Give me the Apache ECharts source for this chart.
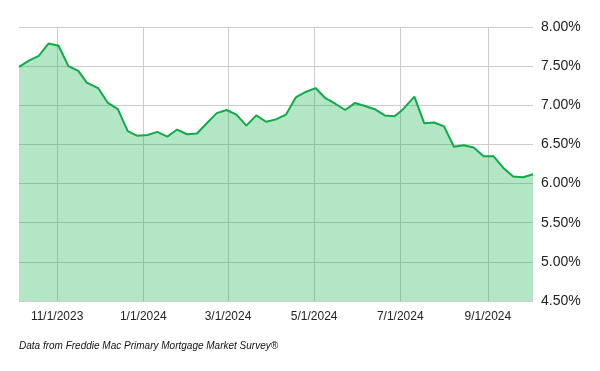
<!DOCTYPE html>
<html>
<head>
<meta charset="utf-8">
<script src="https://cdn.jsdelivr.net/npm/echarts@6/dist/echarts.min.js"></script>
<style>html,body{margin:0;padding:0;background:#fff}#c{width:600px;height:371px}</style>
</head>
<body>
<div id="c"></div>
<script>
const dates = ['2023-10-05','2023-10-12','2023-10-19','2023-10-26','2023-11-02','2023-11-09','2023-11-16','2023-11-22','2023-11-30','2023-12-07','2023-12-14','2023-12-21','2023-12-28','2024-01-04','2024-01-11','2024-01-18','2024-01-25','2024-02-01','2024-02-08','2024-02-15','2024-02-22','2024-02-29','2024-03-07','2024-03-14','2024-03-21','2024-03-28','2024-04-04','2024-04-11','2024-04-18','2024-04-25','2024-05-02','2024-05-09','2024-05-16','2024-05-23','2024-05-30','2024-06-06','2024-06-13','2024-06-20','2024-06-27','2024-07-03','2024-07-11','2024-07-18','2024-07-25','2024-08-01','2024-08-08','2024-08-15','2024-08-22','2024-08-29','2024-09-05','2024-09-12','2024-09-19','2024-09-26','2024-10-03'];
const rates = [7.49,7.57,7.63,7.79,7.76,7.50,7.44,7.29,7.22,7.03,6.95,6.67,6.61,6.62,6.66,6.60,6.69,6.63,6.64,6.77,6.90,6.94,6.88,6.74,6.87,6.79,6.82,6.88,7.10,7.17,7.22,7.09,7.02,6.94,7.03,6.99,6.95,6.87,6.86,6.95,7.11,6.77,6.78,6.73,6.47,6.49,6.46,6.35,6.35,6.20,6.09,6.08,6.12];
const xTickDates = ['2023-11-01','2024-01-01','2024-03-01','2024-05-01','2024-07-01','2024-09-01'];
const yMin = 4.5, yMax = 8.0, yStep = 0.5;
const footnote = 'Data from Freddie Mac Primary Mortgage Market Survey®';

// days since 1970-01-01 (UTC) for a date string
function dn(s){const p=s.split('-').map(Number);return Date.UTC(p[0],p[1]-1,p[2])/86400000;}
function fmt(v){const d=new Date(Math.round(v)*86400000);return (d.getUTCMonth()+1)+'/'+d.getUTCDate()+'/'+d.getUTCFullYear();}

const chart = echarts.init(document.getElementById('c'), null, {renderer:'canvas'});
chart.setOption({
  animation:false,
  backgroundColor:'#fff',
  title:{text:footnote,left:19,top:341,padding:0,textStyle:{fontFamily:'Liberation Sans, Arial',fontSize:10,fontStyle:'italic',fontWeight:'normal',color:'#111'}},
  grid:{left:19,right:67,top:27,bottom:70,containLabel:false},
  xAxis:{
    type:'value',
    min:dn(dates[0]),max:dn(dates[dates.length-1]),
    axisLine:{show:false},
    axisTick:{show:false,customValues:xTickDates.map(dn)},
    axisLabel:{customValues:xTickDates.map(dn),formatter:v=>fmt(v),color:'#222',fontFamily:'Liberation Sans, Arial',fontSize:12,margin:10,hideOverlap:false,showMinLabel:true,showMaxLabel:true},
    splitLine:{show:true,lineStyle:{color:'#cccccc',width:1}}
  },
  yAxis:{
    type:'value',position:'right',min:yMin,max:yMax,interval:yStep,
    axisLine:{show:false},axisTick:{show:false},
    axisLabel:{formatter:v=>v.toFixed(2)+'%',color:'#222',fontFamily:'Liberation Sans, Arial',fontSize:14,margin:8},
    splitLine:{show:true,lineStyle:{color:'#cccccc',width:1}}
  },
  series:[{
    type:'line',
    data:dates.map((d,i)=>[dn(d),rates[i]]),
    showSymbol:false,symbol:'none',
    lineStyle:{color:'#0fab47',width:2},
    areaStyle:{color:'rgba(0,172,62,0.3)',opacity:1,origin:'start'}
  }]
});
</script>
</body>
</html>
